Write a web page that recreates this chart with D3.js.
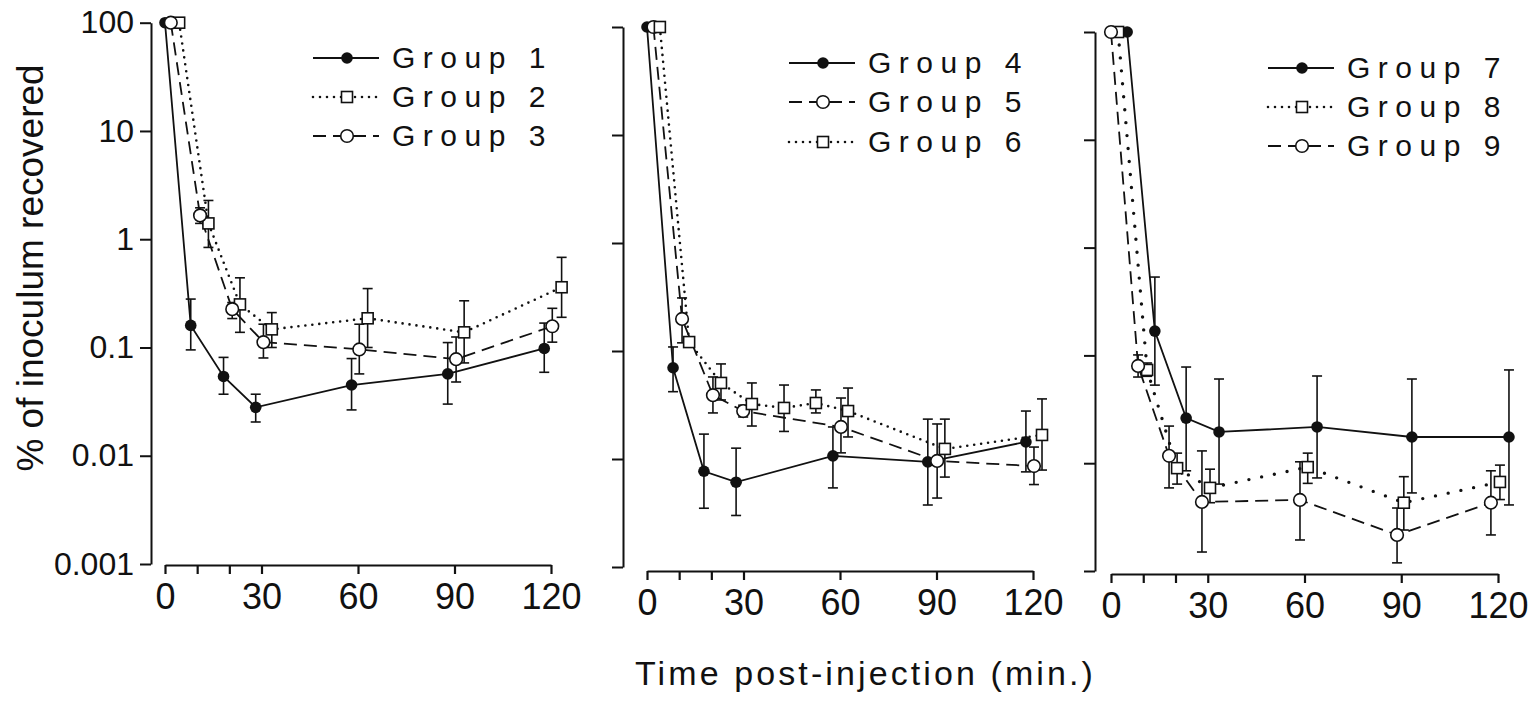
<!DOCTYPE html>
<html lang="en">
<head>
    <meta charset="UTF-8">
    <title>% of inoculum recovered</title>
    <script src="https://cdnjs.cloudflare.com/ajax/libs/d3/7.8.5/d3.min.js"></script>
    <style>
        body { margin: 0; background: #fff; }
        svg { display: block; font-family: "Liberation Sans", Arial, sans-serif; }
    </style>
</head>
<body>
    <div id="chart"></div>

    <script>
        // [time (min), mean %, lower error, upper error]
        const group1 = [[0, 100], [8, 0.16, 0.095, 0.28], [18.2, 0.054, 0.037, 0.081], [28.2, 0.028, 0.0205, 0.037], [58, 0.045, 0.0265, 0.079], [87.9, 0.057, 0.030, 0.111], [117.9, 0.098, 0.059, 0.168]];
        const group2 = [[4.4, 100], [13.5, 1.40, 0.84, 2.28], [23.3, 0.25, 0.138, 0.44], [33.2, 0.147, 0.10, 0.21], [63, 0.186, 0.10, 0.35], [93, 0.138, 0.072, 0.27], [123.3, 0.36, 0.19, 0.68]];
        const group3 = [[1.8, 100], [10.9, 1.66, 1.4, 1.95], [20.9, 0.226, 0.185, 0.26], [30.6, 0.112, 0.08, 0.164], [60.4, 0.096, 0.057, 0.164], [90.5, 0.078, 0.048, 0.125], [120.4, 0.157, 0.112, 0.23]];
        const group4 = [[0, 100], [8.1, 0.070, 0.042, 0.109], [17.7, 0.0077, 0.0035, 0.017], [27.7, 0.0061, 0.003, 0.0126], [57.8, 0.0107, 0.0054, 0.0198], [87.3, 0.0094, 0.00375, 0.0234], [117.8, 0.0144, 0.0076, 0.0278]];
        const group5 = [[2, 100], [10.9, 0.198, 0.119, 0.31], [20.5, 0.039, 0.0267, 0.0575], [29.9, 0.0278, 0.0245, 0.0315], [60.3, 0.0198, 0.0114, 0.0367], [90.2, 0.0096, 0.00435, 0.0211], [120.3, 0.0086, 0.0058, 0.0129]];
        const group6 = [[4, 100], [13.1, 0.121, 0.113, 0.13], [23, 0.0506, 0.0352, 0.0759], [32.6, 0.0323, 0.0202, 0.0506], [42.6, 0.0297, 0.018, 0.0484], [52.5, 0.033, 0.0267, 0.0436], [62.5, 0.0278, 0.016, 0.0454], [92.6, 0.0124, 0.0068, 0.0234], [122.8, 0.0167, 0.0079, 0.036]];
        const group7 = [[5, 100], [13.6, 0.168, 0.053, 0.533], [23.3, 0.0262, 0.0085, 0.078], [33.5, 0.0195, 0.0064, 0.0604], [63.9, 0.0217, 0.0073, 0.0644], [93.3, 0.0175, 0.0053, 0.0604], [123.4, 0.0175, 0.0041, 0.0733]];
        const group8 = [[2.2, 100], [11.2, 0.0733, 0.064, 0.085], [20.5, 0.0090, 0.0064, 0.0124], [30.7, 0.0059, 0.0043, 0.0088], [61, 0.0092, 0.0065, 0.0124], [90.8, 0.0043, 0.0024, 0.0075], [120.6, 0.0067, 0.0046, 0.0096]];
        const group9 = [[0, 100], [8.4, 0.0798, 0.063, 0.101], [18, 0.0117, 0.0059, 0.0221], [28.2, 0.00437, 0.0015, 0.013], [58.6, 0.00456, 0.00194, 0.0103], [88.7, 0.00216, 0.00119, 0.00384], [117.8, 0.0043, 0.00216, 0.0085]];

        const groupNames = ["Group 1", "Group 2", "Group 3", "Group 4", "Group 5", "Group 6", "Group 7", "Group 8", "Group 9"];
        const yTicks = [100, 10, 1, 0.1, 0.01, 0.001];
        const yTickLabels = ["100", "10", "1", "0.1", "0.01", "0.001"];
        const xTicks = [0, 30, 60, 90, 120];
        const xMinorTicks = [10, 20];
        const yTitle = "% of inoculum recovered";
        const xTitle = "Time post-injection (min.)";

        const groups = [group1, group2, group3, group4, group5, group6, group7, group8, group9];

        // line style + marker per group
        const styles = [
            { dash: null, marker: "dot" }, { dash: "dot", marker: "square" }, { dash: "dash", marker: "circle" },
            { dash: null, marker: "dot" }, { dash: "dash", marker: "circle" }, { dash: "dot", marker: "square" },
            { dash: null, marker: "dot" }, { dash: "bigdot", marker: "square" }, { dash: "dash", marker: "circle" }
        ];

        const panels = [
            { members: [0, 1, 2], yAxisX: 151, yTop: 22.7, yBot: 564, xAxisY: 565, x0: 165, x1: 551, labels: true, legX: 313, legBase: [68, 107, 146] },
            { members: [3, 4, 5], yAxisX: 623, yTop: 27, yBot: 567, xAxisY: 571, x0: 647, x1: 1033, labels: false, legX: 789, legBase: [73, 112, 152] },
            { members: [6, 7, 8], yAxisX: 1095, yTop: 32, yBot: 571, xAxisY: 574, x0: 1111, x1: 1498, labels: false, legX: 1268, legBase: [78, 117, 156] }
        ];

        const width = 1539;
        const height = 701;

        const svg = d3.select("#chart")
            .append("svg")
            .attr("width", width)
            .attr("height", height);

        function dashFor(kind) {
            if (kind === "dash") return "13,7";
            if (kind === "dot") return "0,7";
            if (kind === "bigdot") return "0,13";
            return null;
        }

        function drawLine(g, pts, kind) {
            g.append("path")
                .attr("d", d3.line()(pts))
                .attr("fill", "none")
                .attr("stroke", "#111")
                .attr("stroke-width", kind === "bigdot" ? 3.4 : (kind === "dot" ? 2.6 : 1.8))
                .attr("stroke-linecap", kind && kind.includes("dot") ? "round" : "butt")
                .attr("stroke-dasharray", dashFor(kind));
        }

        function drawMarker(g, cx, cy, kind) {
            if (kind === "dot") {
                g.append("circle").attr("cx", cx).attr("cy", cy).attr("r", 5.8).attr("fill", "#111");
            } else if (kind === "circle") {
                g.append("circle").attr("cx", cx).attr("cy", cy).attr("r", 6.3)
                    .attr("fill", "#fff").attr("stroke", "#111").attr("stroke-width", 1.6);
            } else {
                g.append("rect").attr("x", cx - 5.5).attr("y", cy - 5.5).attr("width", 11).attr("height", 11)
                    .attr("fill", "#fff").attr("stroke", "#111").attr("stroke-width", 1.6);
            }
        }

        panels.forEach(p => {
            const x = d3.scaleLinear().domain([0, 120]).range([p.x0, p.x1]);
            const y = d3.scaleLog().domain([0.001, 100]).range([p.yBot, p.yTop]);

            const yAxis = svg.append("g")
                .attr("transform", `translate(${p.yAxisX},0)`)
                .call(d3.axisLeft(y)
                    .tickValues(yTicks)
                    .tickFormat((d, i) => p.labels ? yTickLabels[i] : "")
                    .tickSize(11)
                    .tickSizeOuter(0)
                    .tickPadding(6));
            yAxis.selectAll("path, line").attr("stroke", "#111").attr("stroke-width", 2);
            yAxis.selectAll("text").attr("font-size", "32px").attr("fill", "#111").attr("font-family", null);

            const xAxis = svg.append("g")
                .attr("transform", `translate(0,${p.xAxisY})`)
                .call(d3.axisBottom(x)
                    .tickValues(xTicks.concat(xMinorTicks))
                    .tickFormat(d => xTicks.includes(d) ? d : "")
                    .tickSize(9)
                    .tickSizeOuter(0)
                    .tickPadding(9.5));
            xAxis.selectAll("path, line").attr("stroke", "#111").attr("stroke-width", 2.2);
            xAxis.selectAll("text").attr("font-size", "36px").attr("fill", "#111").attr("font-family", null);

            const plot = svg.append("g");

            p.members.forEach(gi => {
                const pts = groups[gi].map(d => [x(d[0]), y(d[1])]);
                drawLine(plot, pts, styles[gi].dash);
            });

            // error bars
            p.members.forEach(gi => {
                groups[gi].filter(d => d.length > 2).forEach(d => {
                    const cx = x(d[0]);
                    const yl = y(d[2]);
                    const yh = y(d[3]);
                    const eb = plot.append("g").attr("stroke", "#111").attr("stroke-width", 1.6);
                    eb.append("line").attr("x1", cx).attr("x2", cx).attr("y1", yl).attr("y2", yh);
                    eb.append("line").attr("x1", cx - 5).attr("x2", cx + 5).attr("y1", yl).attr("y2", yl);
                    eb.append("line").attr("x1", cx - 5).attr("x2", cx + 5).attr("y1", yh).attr("y2", yh);
                });
            });

            p.members.forEach(gi => {
                groups[gi].forEach(d => drawMarker(plot, x(d[0]), y(d[1]), styles[gi].marker));
            });

            // legend
            p.members.forEach((gi, k) => {
                const base = p.legBase[k];
                const ly = base - 10;
                const leg = svg.append("g");
                const kind = styles[gi].dash === "bigdot" ? "dot" : styles[gi].dash;
                drawLine(leg, [[p.legX, ly], [p.legX + 66, ly]], kind);
                drawMarker(leg, p.legX + 34, ly, styles[gi].marker);
                leg.append("text")
                    .attr("x", p.legX + 79)
                    .attr("y", base)
                    .attr("font-size", "30px")
                    .attr("letter-spacing", "7.5px")
                    .attr("fill", "#111")
                    .text(groupNames[gi]);
            });
        });

        svg.append("text")
            .attr("transform", "translate(43,268) rotate(-90)")
            .attr("text-anchor", "middle")
            .attr("font-size", "37px")
            .attr("fill", "#111")
            .text(yTitle);

        svg.append("text")
            .attr("x", 635)
            .attr("y", 685)
            .attr("font-size", "34px")
            .attr("letter-spacing", "3.1px")
            .attr("fill", "#111")
            .text(xTitle);
    </script>
</body>
</html>
